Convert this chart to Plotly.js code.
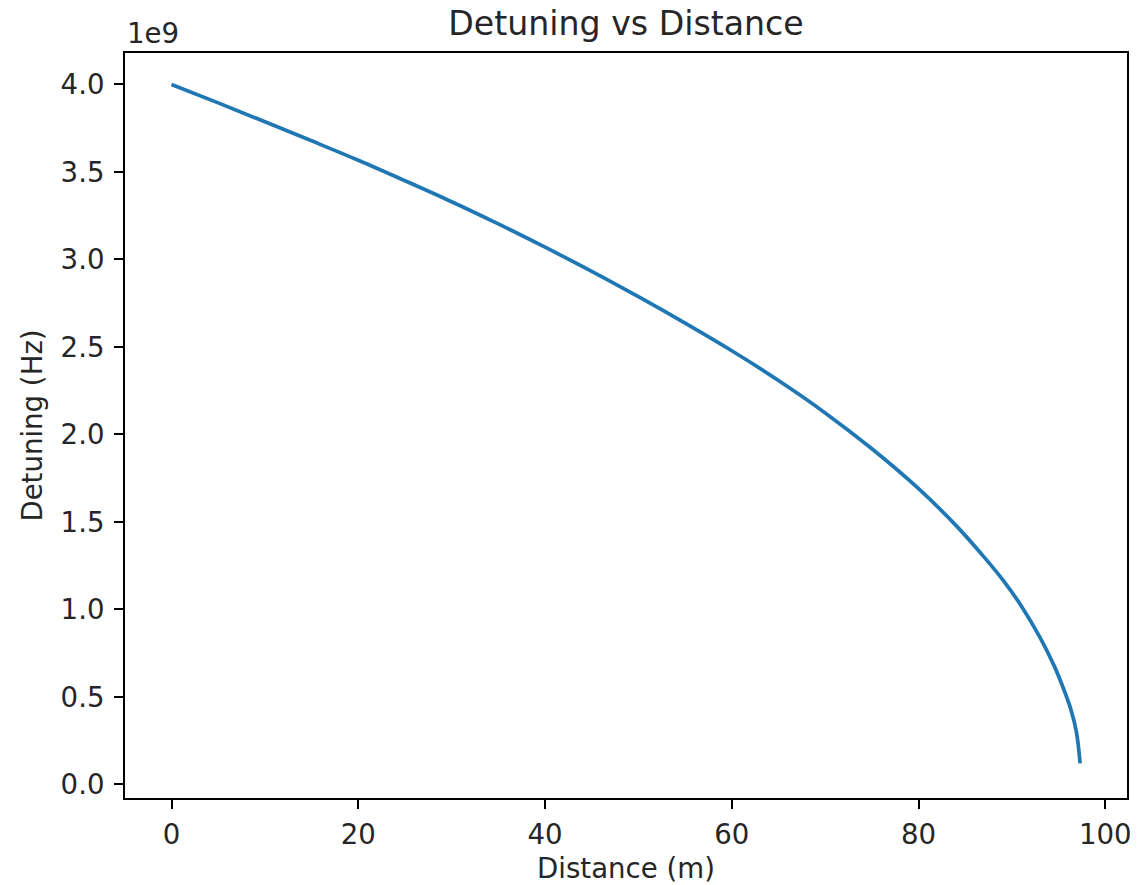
<!DOCTYPE html>
<html>
<head>
<meta charset="utf-8">
<script src="https://cdn.plot.ly/plotly-3.0.1.min.js"></script>
<style>
  html, body { margin: 0; padding: 0; background: #ffffff; }
  #chart { width: 1143px; height: 885px; }
</style>
</head>
<body>
<div id="chart"></div>
<script>
// Distance travelled (m)
const distanceM = [0, 5, 10, 15, 20, 25, 30, 35, 40, 45, 50, 55, 60, 65, 70, 75, 80,
  84, 87, 89, 91, 93, 94.5, 95.5, 96.3, 96.9, 97.3];
// Detuning at each distance (Hz)
const detuningHz = [4.00e9, 3.895e9, 3.787e9, 3.678e9, 3.567e9, 3.45e9, 3.33e9, 3.203e9, 3.07e9,
  2.932e9, 2.787e9, 2.636e9, 2.478e9, 2.308e9, 2.123e9, 1.918e9, 1.69e9,
  1.48e9, 1.30e9, 1.17e9, 1.02e9, 0.84e9, 0.68e9, 0.55e9, 0.43e9, 0.30e9, 0.12e9];

// Axis ticks
const xTicks = [0, 20, 40, 60, 80, 100];
const yTicks = [0, 0.5e9, 1.0e9, 1.5e9, 2.0e9, 2.5e9, 3.0e9, 3.5e9, 4.0e9];
const yTickText = ['0.0', '0.5', '1.0', '1.5', '2.0', '2.5', '3.0', '3.5', '4.0'];

const FONT = 'DejaVu Sans, Liberation Sans, sans-serif';
const INK = '#262626';
const LABEL_SIZE = 27.6;
const TITLE_SIZE = 33.2;

const trace = {
  x: distanceM,
  y: detuningHz,
  type: 'scatter',
  mode: 'lines',
  line: { color: '#1f77b4', width: 3.7, shape: 'spline', smoothing: 1 },
  hoverinfo: 'x+y'
};

const axisCommon = {
  showline: true,
  linecolor: '#000000',
  linewidth: 2,
  mirror: true,
  ticks: 'outside',
  ticklen: 9,
  tickwidth: 2,
  tickcolor: '#000000',
  showgrid: false,
  zeroline: false,
  tickfont: { family: FONT, size: LABEL_SIZE, color: INK }
};

const layout = {
  width: 1143,
  height: 885,
  paper_bgcolor: '#ffffff',
  plot_bgcolor: '#ffffff',
  margin: { l: 124.5, r: 16, t: 52.7, b: 87 },
  showlegend: false,
  title: {
    text: 'Detuning vs Distance',
    font: { family: FONT, size: TITLE_SIZE, color: INK },
    x: 0.5, xref: 'paper',
    y: 1 - 23 / 885, yref: 'container', yanchor: 'middle'
  },
  xaxis: Object.assign({}, axisCommon, {
    range: [-4.98, 102.32],
    tickvals: xTicks,
    ticktext: xTicks.map(String),
    ticklabelstandoff: 2,
    title: { text: 'Distance (m)', font: { family: FONT, size: LABEL_SIZE, color: INK }, standoff: 11 }
  }),
  yaxis: Object.assign({}, axisCommon, {
    range: [-0.078e9, 4.18e9],
    tickvals: yTicks,
    ticktext: yTickText,
    ticklabelstandoff: 4,
    title: { text: 'Detuning (Hz)', font: { family: FONT, size: LABEL_SIZE, color: INK }, standoff: 10 }
  }),
  annotations: [{
    text: '1e9',
    xref: 'paper', yref: 'paper',
    x: 0, y: 1,
    xanchor: 'left', yanchor: 'bottom',
    yshift: 1,
    showarrow: false,
    font: { family: FONT, size: LABEL_SIZE, color: INK }
  }]
};

Plotly.newPlot('chart', [trace], layout, { displayModeBar: false, staticPlot: true });
</script>
</body>
</html>
